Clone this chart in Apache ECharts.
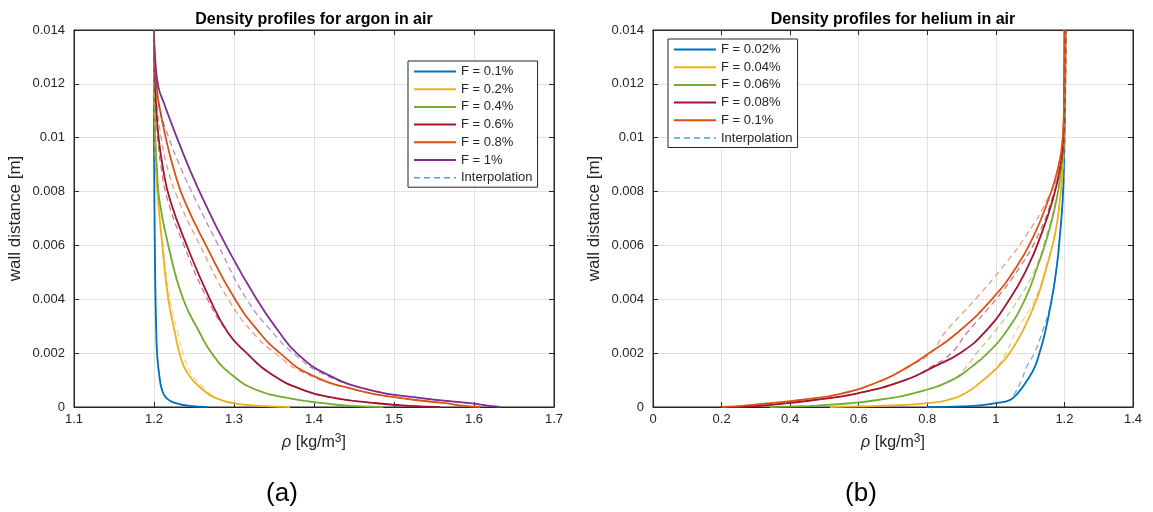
<!DOCTYPE html>
<html>
<head>
<meta charset="utf-8">
<script src="https://cdn.jsdelivr.net/npm/echarts@6/dist/echarts.min.js"></script>
<style>
  html, body { margin: 0; padding: 0; background: #ffffff; }
  #chart { width: 1153px; height: 512px; }
</style>
</head>
<body>
<div id="chart"></div>
<script>
// ---- Argon in air: wall distance levels [m] and density [kg/m^3] per feed fraction F ----
const argonWall = [0, 0.00004, 0.00014, 0.00032, 0.00063, 0.00125, 0.002, 0.00274, 0.004, 0.006, 0.0077, 0.0088, 0.01004, 0.01128, 0.0119, 0.013, 0.014];
const argonF01 = [1.2659, 1.245, 1.2275, 1.2159, 1.21, 1.2063, 1.2038, 1.2029, 1.2019, 1.201, 1.2005, 1.2003, 1.2, 1.2, 1.2, 1.2, 1.2];
const argonF02 = [1.37, 1.3325, 1.2991, 1.2784, 1.2616, 1.2419, 1.2319, 1.2263, 1.2179, 1.2104, 1.205, 1.2025, 1.2013, 1.2006, 1.2003, 1.2, 1.2];
const argonF04 = [1.4866, 1.445, 1.4116, 1.37, 1.3284, 1.295, 1.2721, 1.2575, 1.2366, 1.2179, 1.2066, 1.2038, 1.2015, 1.2006, 1.2003, 1.2, 1.2];
const argonF06 = [1.5575, 1.52, 1.4784, 1.4284, 1.3866, 1.345, 1.3159, 1.2929, 1.27, 1.2409, 1.22, 1.2116, 1.2056, 1.2025, 1.2013, 1.2004, 1.2];
const argonF08 = [1.6075, 1.5888, 1.5638, 1.5116, 1.4534, 1.3925, 1.3575, 1.3325, 1.3013, 1.265, 1.2375, 1.225, 1.2144, 1.206, 1.2034, 1.2008, 1.2];
const argonF1  = [1.6325, 1.62, 1.595, 1.5366, 1.47, 1.4138, 1.3784, 1.3575, 1.3284, 1.29, 1.2616, 1.245, 1.2281, 1.2125, 1.2054, 1.2013, 1.2];
// interpolated profiles (dashed)
const argonF01i = [1.2659, 1.245, 1.2275, 1.2159, 1.21, 1.2063, 1.2038, 1.2029, 1.2019, 1.201, 1.2005, 1.2003, 1.2, 1.2, 1.2, 1.2, 1.2];
const argonF02i = [1.37, 1.3325, 1.2991, 1.2784, 1.265, 1.2463, 1.2363, 1.23, 1.22, 1.2113, 1.205, 1.2025, 1.2013, 1.2006, 1.2003, 1.2, 1.2];
const argonF04i = [1.4866, 1.445, 1.4116, 1.37, 1.3284, 1.295, 1.2721, 1.2575, 1.2366, 1.2179, 1.2066, 1.2038, 1.2015, 1.2006, 1.2003, 1.2, 1.2];
const argonF06i = [1.5575, 1.52, 1.4784, 1.4284, 1.3866, 1.345, 1.3159, 1.2929, 1.2669, 1.2375, 1.2169, 1.2094, 1.2044, 1.2025, 1.2013, 1.2004, 1.2];
const argonF08i = [1.6075, 1.5888, 1.5638, 1.5116, 1.4534, 1.3888, 1.3513, 1.3241, 1.2929, 1.2575, 1.2304, 1.2175, 1.2088, 1.2038, 1.2023, 1.2004, 1.2];
const argonF1i  = [1.6325, 1.62, 1.595, 1.5366, 1.47, 1.41, 1.3741, 1.3491, 1.3159, 1.2804, 1.2519, 1.2346, 1.2179, 1.2054, 1.2031, 1.2006, 1.2];

// ---- Helium in air ----
const heliumWall = [0, 0.00002, 0.00007, 0.00014, 0.00026, 0.0005, 0.001, 0.0015, 0.002, 0.00274, 0.004, 0.0052, 0.0064, 0.0077, 0.0088, 0.01, 0.012, 0.014];
const heliumF002 = [0.798, 0.900, 0.960, 1.000, 1.041, 1.063, 1.092, 1.114, 1.127, 1.143, 1.163, 1.1775, 1.187, 1.195, 1.198, 1.2, 1.2, 1.2];
const heliumF004 = [0.516, 0.600, 0.720, 0.800, 0.860, 0.910, 0.963, 1.007, 1.040, 1.075, 1.119, 1.148, 1.1725, 1.187, 1.195, 1.199, 1.2, 1.2];
const heliumF006 = [0.341, 0.420, 0.500, 0.575, 0.655, 0.757, 0.872, 0.930, 0.976, 1.027, 1.085, 1.121, 1.152, 1.177, 1.190, 1.198, 1.2, 1.201];
const heliumF008 = [0.239, 0.280, 0.335, 0.390, 0.470, 0.594, 0.735, 0.820, 0.895, 0.965, 1.040, 1.093, 1.132, 1.166, 1.186, 1.197, 1.2, 1.201];
const heliumF01  = [0.200, 0.240, 0.283, 0.340, 0.429, 0.550, 0.670, 0.745, 0.805, 0.886, 0.988, 1.060, 1.112, 1.153, 1.180, 1.195, 1.2, 1.202];
// interpolated profiles (dashed)
const heliumF002i = [0.798, 0.900, 0.960, 1.000, 1.041, 1.055, 1.075, 1.090, 1.112, 1.134, 1.163, 1.1775, 1.187, 1.195, 1.199, 1.201, 1.203, 1.204];
const heliumF004i = [0.516, 0.600, 0.720, 0.800, 0.860, 0.910, 0.963, 1.003, 1.030, 1.056, 1.114, 1.146, 1.171, 1.187, 1.196, 1.2, 1.203, 1.204];
const heliumF006i = [0.341, 0.420, 0.500, 0.575, 0.655, 0.757, 0.872, 0.915, 0.944, 0.993, 1.066, 1.117, 1.148, 1.176, 1.190, 1.2, 1.203, 1.205];
const heliumF008i = [0.239, 0.280, 0.335, 0.390, 0.470, 0.594, 0.735, 0.812, 0.870, 0.915, 1.000, 1.070, 1.124, 1.163, 1.186, 1.199, 1.203, 1.205];
const heliumF01i  = [0.200, 0.240, 0.283, 0.340, 0.429, 0.550, 0.670, 0.745, 0.810, 0.850, 0.940, 1.020, 1.090, 1.150, 1.185, 1.2, 1.204, 1.206];

const argonNames  = ['F = 0.1%', 'F = 0.2%', 'F = 0.4%', 'F = 0.6%', 'F = 0.8%', 'F = 1%'];
const heliumNames = ['F = 0.02%', 'F = 0.04%', 'F = 0.06%', 'F = 0.08%', 'F = 0.1%'];
const interpName = 'Interpolation';

const argonX = [1.1, 1.7, 0.1];   // min, max, step
const heliumX = [0, 1.4, 0.2];
const wallY = [0, 0.014, 0.002];

const colors = ['#0072BD', '#EDB120', '#77AC30', '#A2142F', '#D95319', '#7E2F8E'];
const interpColor = '#4a9fdc';
const FONT = '"Liberation Sans", Arial, Helvetica, sans-serif';
const INK = '#262626';

const argonSolid = [argonF01, argonF02, argonF04, argonF06, argonF08, argonF1];
const argonDash  = [argonF01i, argonF02i, argonF04i, argonF06i, argonF08i, argonF1i];
const heliumSolid = [heliumF002, heliumF004, heliumF006, heliumF008, heliumF01];
const heliumDash  = [heliumF002i, heliumF004i, heliumF006i, heliumF008i, heliumF01i];

const pairs = (rho, wall) => rho.map((r, i) => [r, wall[i]]);

function buildSeries(solid, dash, wall, names, axisIdx) {
  const out = [];
  solid.forEach((rho, k) => {
    out.push({
      type: 'line', name: names[k], xAxisIndex: axisIdx, yAxisIndex: axisIdx,
      data: pairs(rho, wall), symbol: 'none', smooth: 0.5,
      lineStyle: { color: colors[k], width: 1.8 }, itemStyle: { color: colors[k] },
      z: 3, animation: false
    });
  });
  dash.forEach((rho, k) => {
    out.push({
      type: 'line', name: interpName, xAxisIndex: axisIdx, yAxisIndex: axisIdx,
      data: pairs(rho, wall), symbol: 'none', smooth: 0.5,
      lineStyle: { color: colors[k], width: 1.2, type: [6, 4], opacity: 0.6 },
      itemStyle: { color: colors[k] },
      z: 4, animation: false
    });
  });
  return out;
}

function valueAxis(gridIndex, range, position, showLabel, margin) {
  return {
    type: 'value', gridIndex, position, min: range[0], max: range[1], interval: range[2],
    axisLine: { show: true, onZero: false, lineStyle: { color: INK, width: 1 } },
    axisTick: { show: true, inside: true, length: 5, lineStyle: { color: INK } },
    axisLabel: { show: showLabel, color: INK, fontSize: 13, fontFamily: FONT, margin: margin || 6 },
    splitLine: { show: showLabel, lineStyle: { color: '#e2e2e2', width: 1 } }
  };
}

function legendFor(names, left, top) {
  const data = names.map((n, k) => ({
    name: n, itemStyle: { color: colors[k], opacity: 0 },
    lineStyle: { color: colors[k], width: 2, type: 'solid', opacity: 1 }
  }));
  data.push({ name: interpName, itemStyle: { color: interpColor, opacity: 0 },
              lineStyle: { color: interpColor, width: 1.5, type: [6, 4], opacity: 1 } });
  return {
    orient: 'vertical', left, top, data,
    itemWidth: 42, itemHeight: 12, itemGap: 4.7,
    padding: [4, 5, 3, 5],
    backgroundColor: '#ffffff', borderColor: INK, borderWidth: 1,
    textStyle: { color: INK, fontSize: 13, fontFamily: FONT },
    selectedMode: false
  };
}

const chart = echarts.init(document.getElementById('chart'), null, { renderer: 'canvas' });

const xName = '{r|ρ} [kg/m{s|3}]';
const nameStyle = {
  color: INK, fontSize: 16, fontFamily: FONT,
  rich: { r: { fontSize: 16, fontStyle: 'italic', fontFamily: FONT, color: INK },
          s: { fontSize: 12, padding: [0, 0, 8, 0], fontFamily: FONT, color: INK } }
};
const yNameStyle = { color: INK, fontSize: 17, fontFamily: FONT };

const xMain0 = Object.assign(valueAxis(0, argonX, 'bottom', true),
  { name: xName, nameLocation: 'middle', nameGap: 26, nameTextStyle: nameStyle });
const xMain1 = Object.assign(valueAxis(1, heliumX, 'bottom', true),
  { name: xName, nameLocation: 'middle', nameGap: 26, nameTextStyle: nameStyle });
const yMain0 = Object.assign(valueAxis(0, wallY, 'left', true, 9),
  { name: 'wall distance [m]', nameLocation: 'middle', nameGap: 50, nameTextStyle: yNameStyle });
const yMain1 = Object.assign(valueAxis(1, wallY, 'left', true, 9),
  { name: 'wall distance [m]', nameLocation: 'middle', nameGap: 50, nameTextStyle: yNameStyle });

const option = {
  backgroundColor: '#ffffff',
  animation: false,
  textStyle: { fontFamily: FONT },
  title: [
    { text: 'Density profiles for argon in air', left: 314, top: 12, textAlign: 'center', padding: 0,
      textStyle: { fontSize: 16, fontWeight: 'bold', color: '#000', fontFamily: FONT } },
    { text: 'Density profiles for helium in air', left: 893, top: 12, textAlign: 'center', padding: 0,
      textStyle: { fontSize: 16, fontWeight: 'bold', color: '#000', fontFamily: FONT } }
  ],
  grid: [
    { left: 74, top: 30, width: 480, height: 377, show: true, borderColor: INK, borderWidth: 1, backgroundColor: 'transparent' },
    { left: 653, top: 30, width: 480, height: 377, show: true, borderColor: INK, borderWidth: 1, backgroundColor: 'transparent' }
  ],
  xAxis: [
    xMain0,
    valueAxis(0, argonX, 'top', false),
    xMain1,
    valueAxis(1, heliumX, 'top', false)
  ],
  yAxis: [
    yMain0,
    valueAxis(0, wallY, 'right', false),
    yMain1,
    valueAxis(1, wallY, 'right', false)
  ],
  legend: [
    legendFor(argonNames, 408, 61),
    legendFor(heliumNames, 668, 39)
  ],
  graphic: [
    { type: 'text', x: 282, y: 494, style: { text: '(a)', font: '26px ' + FONT, fill: '#000', align: 'center', verticalAlign: 'middle' } },
    { type: 'text', x: 861, y: 494, style: { text: '(b)', font: '26px ' + FONT, fill: '#000', align: 'center', verticalAlign: 'middle' } }
  ],
  series: [].concat(
    buildSeries(argonSolid, argonDash, argonWall, argonNames, 0),
    buildSeries(heliumSolid, heliumDash, heliumWall, heliumNames, 2)
  )
};

chart.setOption(option);
</script>
</body>
</html>
